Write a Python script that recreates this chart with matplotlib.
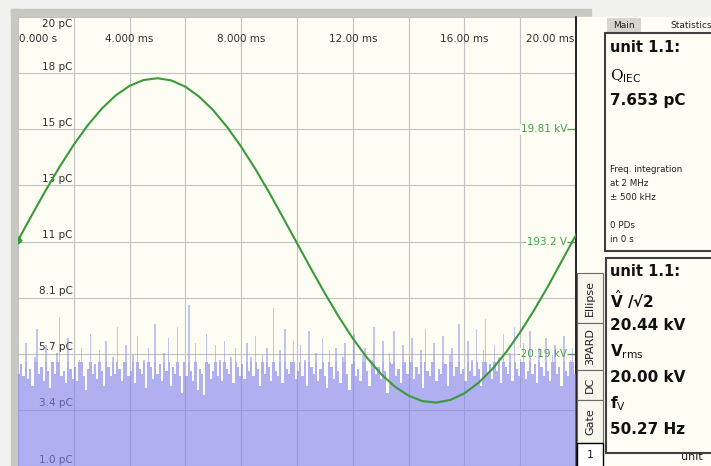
import numpy as np
import matplotlib
matplotlib.use("Agg")
import matplotlib.pyplot as plt
from matplotlib.patches import Rectangle
from matplotlib.transforms import blended_transform_factory

W, H = 711, 466

# ---- data ----
y_tick_labels = ["1.0 pC", "3.4 pC", "5.7 pC", "8.1 pC", "11 pC", "13 pC", "15 pC", "18 pC", "20 pC"]
x_tick_ms = [0, 4, 8, 12, 16, 20]
x_tick_labels = ["0.000 s", "4.000 ms", "8.000 ms", "12.00 ms", "16.00 ms", "20.00 ms"]
volt_tick_kv = [19.81, -0.1932, -20.19]
volt_tick_labels = ["19.81 kV", "-193.2 V", "-20.19 kV"]

# test voltage, kV, one point every 0.5 ms
v_kv = [0.0, 4.55, 8.98, 13.19, 17.07, 20.52, 23.47, 25.83, 27.54, 28.58,
        28.90, 28.50, 27.39, 25.59, 23.17, 20.18, 16.68, 12.79, 8.57, 4.06,
        -0.49, -5.03, -9.44, -13.62, -17.45, -20.85, -23.74, -26.02, -27.66, -28.64,
        -28.89, -28.41, -27.24, -25.39, -22.92, -19.88, -16.35, -12.41, -8.14, -3.57,
        0.98]

# PD charge per 0.08 ms bin, pC
pd_bin_ms = 0.08
pd_pc = [4.9, 5.3, 4.8, 6.2, 4.7, 5.1, 4.4, 5.6, 6.8, 4.9, 5.2, 4.6, 6.1, 5.0, 4.3, 5.4, 4.9, 5.8, 7.3, 4.8, 5.0, 4.5, 6.4, 5.1, 4.7,
         5.2, 4.6, 5.5, 6.0, 4.8, 4.2, 5.1, 6.6, 4.9, 5.3, 4.7, 5.9, 5.0, 4.4, 6.3, 5.2, 4.8, 5.6, 4.9, 6.9, 5.1, 4.6, 5.4, 6.1, 4.8,
         5.0, 5.7, 4.5, 6.5, 5.1, 4.9, 5.5, 4.3, 6.0, 5.2, 4.7, 7.0, 4.9, 5.3, 4.6, 5.8, 5.0, 6.4, 4.4, 5.2, 4.9, 6.9, 4.8, 4.1, 5.4,
         4.8, 7.8, 5.0, 4.6, 6.2, 4.2, 5.1, 4.9, 4.0, 6.6, 5.3, 4.7, 5.0, 6.1, 4.8, 5.5, 4.6, 6.3, 5.1, 4.9, 5.6, 4.5, 6.0, 5.2, 4.8,
         5.3, 4.7, 6.2, 5.0, 5.6, 4.8, 6.5, 5.1, 4.4, 5.7, 4.9, 6.0, 5.2, 4.6, 7.7, 5.0, 4.8, 5.9, 4.5, 6.8, 5.1, 4.9, 5.4, 6.3, 4.7,
         5.0, 6.1, 4.8, 5.5, 4.4, 6.7, 5.2, 4.9, 5.8, 4.6, 5.1, 6.4, 4.8, 4.3, 5.9, 5.2, 4.7, 6.0, 5.0, 4.5, 5.6, 6.2, 4.9, 4.2, 5.3,
         6.6, 4.8, 5.1, 4.6, 5.7, 6.0, 5.0, 4.4, 5.5, 6.9, 4.9, 5.2, 4.7, 6.3, 5.0, 4.1, 5.8, 5.3, 6.7, 4.8, 5.1, 4.5, 6.1, 5.4, 4.9,
         5.6, 6.4, 4.7, 5.2, 4.9, 5.9, 4.3, 6.8, 5.0, 4.8, 5.4, 6.2, 4.6, 5.1, 4.9, 6.5, 5.3, 4.4, 5.7, 6.0, 4.8, 5.2, 7.0, 4.9, 5.1,
         4.6, 6.3, 5.0, 5.5, 4.8, 6.8, 5.1, 4.4, 5.9, 7.2, 4.9, 5.3, 4.7, 6.1, 5.0, 5.6, 4.5, 6.6, 5.2, 4.9, 5.8, 4.6, 6.9, 5.1, 4.8,
         5.4, 6.2, 4.7, 5.0, 6.7, 4.9, 5.3, 4.5, 6.0, 5.2, 4.8, 6.4, 5.0, 4.6, 5.7, 6.1, 4.9, 5.2, 4.4, 6.5, 5.0, 4.8, 5.5, 6.0, 4.9]

# side panel readings
q_iec = "7.653 pC"
v_peak_rt2 = "20.44 kV"
v_rms = "20.00 kV"
f_v = "50.27 Hz"
side_tabs = ["Ellipse", "3PARD", "DC", "Gate"]

cream = "#fdfdf3"
fill_col = (126 / 255, 126 / 255, 239 / 255)
green = "#3a9a3a"

fig = plt.figure(figsize=(W / 100, H / 100), dpi=100, facecolor="#f1f1ef")

# overlay in pixel coordinates for the window decoration
ov = fig.add_axes([0, 0, 1, 1], zorder=0)
ov.set_xlim(0, W)
ov.set_ylim(H, 0)
ov.axis("off")
ov.add_patch(Rectangle((11, 9), 7, H, color="#c8c7c2"))
ov.add_patch(Rectangle((11, 9), 580, 8, color="#c8c7c2"))
ov.add_patch(Rectangle((577, 17), 134, 449, color=cream))

# main plot
ax = fig.add_axes([18 / W, 0, 558 / W, 449 / H], zorder=1)
ax.set_facecolor(cream)
ax.set_xlim(0, 19.93)
ax.set_ylim(1, 20)
ax.set_xticks(np.arange(0, 21, 2))
ax.set_yticks(np.linspace(1, 20, 9))
ax.grid(True, color="#c2c2c2", lw=0.8)
ax.set_axisbelow(True)
ax.tick_params(length=0, labelbottom=False, labelleft=False)
for s in ["top", "bottom", "left"]:
    ax.spines[s].set_visible(False)
ax.spines["right"].set_color("black")
ax.spines["right"].set_linewidth(1.2)

# PD bars: solid part and thin lighter spikes
pd = np.array(pd_pc)
t0 = np.arange(len(pd)) * pd_bin_ms
cap = 5.4
ax.bar(t0, np.minimum(pd, cap), width=pd_bin_ms, align="edge", color=fill_col,
       alpha=0.6, lw=0, zorder=3)
ax.bar(t0 + pd_bin_ms * 0.15, np.clip(pd - cap, 0, None), bottom=cap, width=pd_bin_ms * 0.7,
       align="edge", color=fill_col, alpha=0.45, lw=0, zorder=3)

# axis texts drawn inside the plot
for val, lab in zip(np.linspace(1, 20, 9), y_tick_labels):
    if lab == "20 pC":
        ax.text(1.95, 19.9, lab, ha="right", va="top", fontsize=7.5, color="#303030", zorder=2)
    else:
        ax.text(1.95, val + 0.06, lab, ha="right", va="bottom", fontsize=7.5, color="#303030", zorder=2)
for t, lab in zip(x_tick_ms, x_tick_labels):
    ha = "left" if t == 0 else ("right" if t == 20 else "center")
    xpos = 0.05 if t == 0 else (19.93 if t == 20 else t)
    ax.text(xpos, 19.07, lab, ha=ha, va="center", fontsize=7.5, color="#303030", zorder=2)

# voltage on a twin axis
ax2 = ax.twinx()
ax2.set_zorder(2)
ax2.patch.set_visible(False)
ax2.set_ylim(-40.19, 39.81)
ax2.axis("off")
tv = np.linspace(0, 20, len(v_kv))
ax2.plot(tv, v_kv, color=green, lw=1.5, solid_joinstyle="round")
ax2.plot([tv[0]], [v_kv[0]], marker="D", ms=3.5, color=green)

blend = blended_transform_factory(ax.transData, ax2.transData)
for v, lab in zip(volt_tick_kv, volt_tick_labels):
    ax.text(19.68, v, lab, ha="right", va="center", fontsize=7.5, color="#45a045",
            transform=blend, zorder=2, bbox=dict(fc=cream, ec="none", pad=0.3))
    ax.plot([19.72, 19.93], [v, v], color="#45a045", lw=0.9, transform=blend, zorder=2)

# vertical tabs next to the plot
tab_y = [273, 323, 370, 400, 443]
for name, y0, y1 in zip(side_tabs, tab_y[:-1], tab_y[1:]):
    ov.add_patch(Rectangle((577, y0), 26, y1 - y0, fc="#f7f7ee", ec="#6a6a6a", lw=0.8))
    ov.text(590, (y0 + y1) / 2, name, rotation=90, ha="center", va="center", fontsize=8, color="#202020")
ov.add_patch(Rectangle((577, 443), 26, 24, fc="white", ec="black", lw=1))
ov.text(590, 455, "1", ha="center", va="center", fontsize=8, color="#202020")

# right hand panels
ov.add_patch(Rectangle((607, 18), 34, 15, fc="#d6d4cb", ec="none"))
ov.text(624, 26, "Main", ha="center", va="center", fontsize=6.5, color="#202020")
ov.text(670, 26, "Statistics", ha="left", va="center", fontsize=6.5, color="#202020")

ov.add_patch(Rectangle((605, 33), 110, 218, fc=cream, ec="#404040", lw=1.5))
ov.text(610, 47, "unit 1.1:", fontsize=10.5, fontweight="bold", va="center", color="#101010")
ov.text(610, 76, r"Q$_{\mathrm{IEC}}$", fontsize=11, va="center", color="#101010", family="DejaVu Serif")
ov.text(610, 101, q_iec, fontsize=11, fontweight="bold", va="center", color="#101010")
small = ["Freq. integration", "at 2 MHz", "\u00b1 500 kHz"]
for i, s in enumerate(small):
    ov.text(610, 170 + i * 13.5, s, fontsize=6.3, va="center", color="#202020")
ov.text(610, 226, "0 PDs", fontsize=6.3, va="center", color="#202020")
ov.text(610, 239, "in 0 s", fontsize=6.3, va="center", color="#202020")

ov.add_patch(Rectangle((606, 258), 110, 195, fc=cream, ec="#404040", lw=1.5))
ov.text(610, 271, "unit 1.1:", fontsize=10.5, fontweight="bold", va="center", color="#101010")
ov.text(610, 300, r"$\hat{\mathbf{V}}$ /" + "\u221a2", fontsize=11,
        fontweight="bold", va="center", color="#101010")
ov.text(610, 326, v_peak_rt2, fontsize=11, fontweight="bold", va="center", color="#101010")
ov.text(610, 352, r"$\mathbf{V}_{\mathrm{rms}}$", fontsize=11, va="center", color="#101010")
ov.text(610, 378, v_rms, fontsize=11, fontweight="bold", va="center", color="#101010")
ov.text(610, 404, r"$\mathbf{f}_{\mathrm{V}}$", fontsize=11, va="center", color="#101010")
ov.text(610, 430, f_v, fontsize=11, fontweight="bold", va="center", color="#101010")
ov.text(681, 457, "unit", fontsize=8, va="center", color="#202020")

fig.savefig("out.png", dpi=100, facecolor=fig.get_facecolor())
